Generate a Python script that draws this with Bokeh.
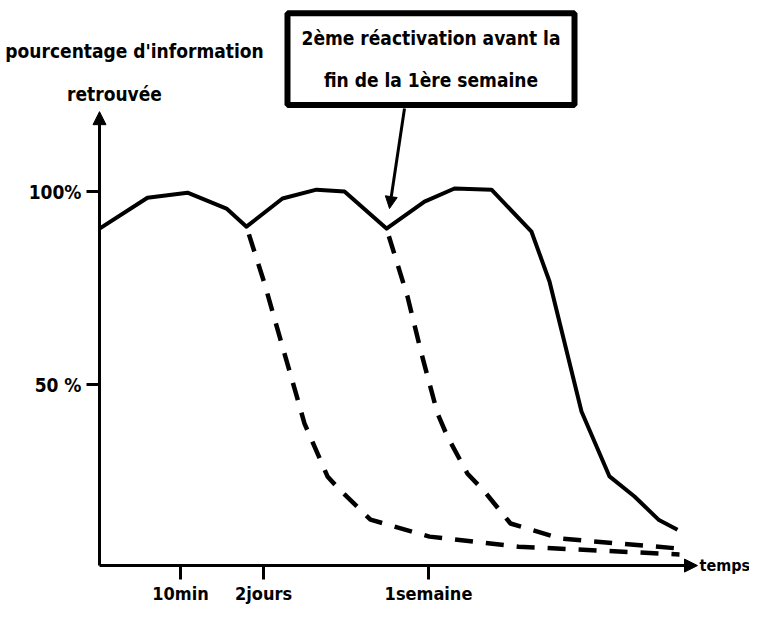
from bokeh.plotting import figure
from bokeh.models import Range1d, FixedTicker, Label, Arrow, NormalHead
from bokeh.embed import file_html
from bokeh.resources import INLINE

FONT = "DejaVu Sans Condensed"

# time axis (arbitrary linear units) and retrieved-information percentages
solid_t = [0, 9.6, 17.6, 25.4, 29.4, 36.6, 43.4, 49, 57.4, 65, 71, 78.4, 86.4, 90, 96.4, 102, 107, 111.8, 115.6]
solid_pct = [90.4, 98.4, 99.7, 95.6, 90.9, 98.2, 100.5, 100, 90.4, 97.4, 100.8, 100.5, 89.6, 76.7, 43, 26.2, 21, 15, 12.4]

dashed1_t = [29.4, 33, 37, 39, 41, 45.6, 48, 54.2, 66, 83.8, 116]
dashed1_pct = [90.9, 76.2, 58, 49, 39.9, 26.2, 22.8, 15, 10.6, 8, 6]

dashed2_t = [57.4, 61.6, 64.4, 67.6, 69.6, 73.6, 77, 82.2, 92.2, 116]
dashed2_pct = [90.4, 72.8, 58, 42.5, 36.5, 26.9, 22.3, 14, 10.1, 7.5]

x_tick_pos = [16.2, 32.8, 65.8]
x_tick_labels = ["10min", "2jours", "1semaine"]
y_tick_pos = [50, 100]
y_tick_labels = ["50 %", "100%"]

Y0 = 3.1      # level of the time axis
YTOP = 120.7  # tip of the vertical axis arrow
XEND = 119.6  # tip of the horizontal axis arrow

p = figure(width=749, height=606, output_backend="svg", toolbar_location=None,
           x_range=Range1d(-19.8, 130.0), y_range=Range1d(-7.5, 149.5),
           min_border=0)
p.outline_line_color = None
p.xgrid.visible = False
p.ygrid.visible = False
p.background_fill_color = "white"
p.border_fill_color = "white"

for ax in (p.xaxis[0], p.yaxis[0]):
    ax.axis_line_color = None
    ax.major_tick_line_width = 3
    ax.major_tick_line_color = "black"
    ax.major_tick_in = 0
    ax.minor_tick_line_color = None
    ax.major_label_text_font = FONT
    ax.major_label_text_font_style = "bold"
    ax.major_label_text_font_size = "19px"
    ax.major_label_text_color = "black"

p.xaxis.fixed_location = Y0
p.xaxis.ticker = FixedTicker(ticks=x_tick_pos)
p.xaxis.major_label_overrides = dict(zip(x_tick_pos, x_tick_labels))
p.xaxis.major_tick_out = 14
p.xaxis.major_label_standoff = 3
p.xaxis.major_label_text_font_size = "18px"

p.yaxis.fixed_location = 0
p.yaxis.ticker = FixedTicker(ticks=y_tick_pos)
p.yaxis.major_label_overrides = dict(zip(y_tick_pos, y_tick_labels))
p.yaxis.major_tick_out = 13
p.yaxis.major_label_standoff = 5

p.line(solid_t, solid_pct, line_width=4, line_color="black", line_join="round")
p.line(dashed1_t, dashed1_pct, line_width=4.5, line_color="black",
       line_dash="18 13", line_dash_offset=23)
p.line(dashed2_t, dashed2_pct, line_width=4.5, line_color="black",
       line_dash="18 13", line_dash_offset=23)

# axis lines with arrow heads
p.add_layout(Arrow(x_start=0, y_start=Y0, x_end=0, y_end=YTOP, line_width=3,
                   end=NormalHead(size=13, fill_color="black", line_color="black")))
p.add_layout(Arrow(x_start=0, y_start=Y0, x_end=XEND, y_end=Y0, line_width=3,
                   end=NormalHead(size=13, fill_color="black", line_color="black")))

# pointer arrow from the annotation box
p.add_layout(Arrow(x_start=61, y_start=121.5, x_end=58, y_end=95.6, line_width=3,
                   end=NormalHead(size=12, fill_color="black", line_color="black")))

def lab(x, y, t, align="center", size="19px", **kw):
    p.add_layout(Label(x=x, y=y, text=t, text_align=align, text_baseline="middle",
                       text_font=FONT, text_font_style="bold", text_font_size=size,
                       text_color="black", **kw))

lab(7, 136.3, "pourcentage d'information")
lab(3, 125.4, "retrouvée")
lab(120.0, Y0, "temps", align="left", size="16px")
lab(66.3, 134.3, "2ème réactivation avant la\nfin de la 1ère semaine",
    text_line_height=1.9, border_line_color="black", border_line_width=6,
    background_fill_color="white", padding=14)

open("out.html", "w").write(file_html(p, INLINE))
